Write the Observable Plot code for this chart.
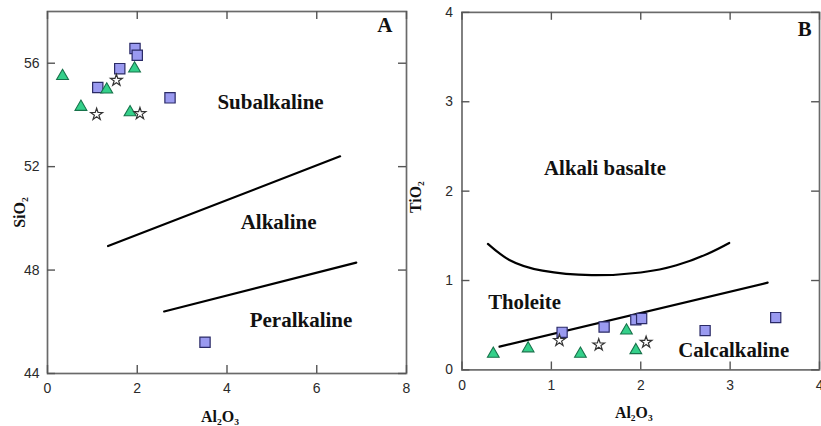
<!DOCTYPE html>
<html><head><meta charset="utf-8">
<script src="https://cdn.jsdelivr.net/npm/d3@7"></script>
<script src="https://cdn.jsdelivr.net/npm/@observablehq/plot@0.6"></script>
<style>
html,body{margin:0;padding:0;background:#fff;overflow:hidden;}
#wrap{position:relative;width:821px;height:426px;overflow:hidden;background:#fff;}
#a{position:absolute;left:0;top:0;}
#b{position:absolute;left:410px;top:0;}
</style></head><body><div id="wrap"><div id="a"></div><div id="b"></div></div>
<script>
// ---------- Panel A : SiO2 vs Al2O3 ----------
const squareAlA = [1.95, 2.00, 1.61, 1.12, 2.73, 3.51];
const squareSiO2 = [56.57, 56.31, 55.79, 55.06, 54.66, 45.21];
const triangleAlA = [0.335, 1.94, 1.32, 0.745, 1.84];
const triangleSiO2 = [55.5, 55.79, 54.98, 54.31, 54.1];
const starAlA = [1.535, 1.095, 2.06];
const starSiO2 = [55.34, 54.02, 54.05];
const boundaryA1Al = [1.35, 6.52];
const boundaryA1Si = [48.93, 52.4];
const boundaryA2Al = [2.6, 6.88];
const boundaryA2Si = [46.4, 48.29];
const regionNamesA = ["Subalkaline", "Alkaline", "Peralkaline"];
const regionAlA = [4.97, 5.15, 5.65];
const regionSiA = [54.49, 49.85, 46.06];
const xTicksA = [0, 2, 4, 6, 8];
const yTicksA = [44, 48, 52, 56];

// ---------- Panel B : TiO2 vs Al2O3 ----------
const squareAlB = [1.12, 1.59, 1.945, 2.01, 2.72, 3.51];
const squareTiO2 = [0.42, 0.48, 0.56, 0.575, 0.44, 0.585];
const triangleAlB = [0.35, 0.74, 1.325, 1.84, 1.945];
const triangleTiO2 = [0.18, 0.24, 0.18, 0.44, 0.22];
const starAlB = [1.09, 1.53, 2.06];
const starTiO2 = [0.33, 0.28, 0.31];
const lineBAl = [0.42, 3.42];
const lineBTi = [0.26, 0.976];
const curveBAl = [0.29, 0.53, 0.9, 1.45, 2.0, 2.4, 2.75, 2.99];
const curveBTi = [1.41, 1.23, 1.11, 1.06, 1.09, 1.17, 1.30, 1.42];
const regionNamesB = ["Alkali basalte", "Tholeite", "Calcalkaline"];
const regionAlB = [1.60, 0.70, 3.04];
const regionTiB = [2.26, 0.76, 0.22];
const xTicksB = [0, 1, 2, 3, 4];
const yTicksB = [0, 1, 2, 3, 4];

const SERIF = "'Liberation Serif','Times New Roman',serif";
const SANS = "'Liberation Sans',Arial,sans-serif";
const zip = (xs, ys) => xs.map((x, i) => ({x, y: ys[i]}));

function panel(cfg) {
  const innerW = cfg.width - cfg.marginLeft - cfg.marginRight;
  const innerH = cfg.height - cfg.marginTop - cfg.marginBottom;
  const T = 8;
  const regions = cfg.regionNames.map((t, i) => ({t, x: cfg.regionX[i], y: cfg.regionY[i]}));
  return Plot.plot({
    width: cfg.width, height: cfg.height,
    marginLeft: cfg.marginLeft, marginRight: cfg.marginRight,
    marginTop: cfg.marginTop, marginBottom: cfg.marginBottom,
    style: {fontFamily: SANS, background: "transparent", overflow: "visible"},
    x: {domain: cfg.xDomain},
    y: {domain: cfg.yDomain},
    marks: [
      Plot.frame({stroke: "#6a6a6a", strokeWidth: 1.7}),
      Plot.tickX(cfg.xTicks, {x: d => d, insetTop: innerH - T, stroke: "#555", strokeWidth: 1.4}),
      Plot.tickX(cfg.xTicks, {x: d => d, insetBottom: innerH - T, stroke: "#555", strokeWidth: 1.4}),
      Plot.tickY(cfg.yTicks, {y: d => d, insetRight: innerW - T, stroke: "#555", strokeWidth: 1.4}),
      Plot.tickY(cfg.yTicks, {y: d => d, insetLeft: innerW - T, stroke: "#555", strokeWidth: 1.4}),
      Plot.axisX({ticks: cfg.xTicks, tickFormat: d => String(d), tickSize: 0, tickPadding: 10, fontSize: 14, color: "#2a2a2a", label: null}),
      Plot.axisY({ticks: cfg.yTicks, tickFormat: d => String(d), tickSize: 0, tickPadding: cfg.yPad, fontSize: 14, color: "#2a2a2a", label: null}),
      Plot.text([cfg.xTitle], {text: d => d, frameAnchor: "bottom", dy: 43, dx: -7, lineAnchor: "middle",
        fontSize: 16, fontWeight: "bold", fontFamily: SERIF, fill: "#111"}),
      Plot.text([cfg.yTitle], {text: d => d, frameAnchor: "left", rotate: -90, dx: cfg.yTitleDx, dy: cfg.yTitleDy,
        lineAnchor: "middle", textAnchor: "middle", fontSize: 16, fontWeight: "bold", fontFamily: SERIF, fill: "#111"}),
      Plot.text([cfg.letter], {text: d => d, frameAnchor: "top-right", dx: cfg.letterDx, dy: cfg.letterDy,
        fontSize: 21, fontWeight: "bold", fontFamily: SERIF, fill: "#111"}),
      Plot.text(regions, {x: "x", y: "y", text: "t", textAnchor: "middle", lineAnchor: "middle",
        fontSize: 21, fontWeight: "bold", fontFamily: SERIF, fill: "#111"}),
      ...cfg.lines.map(l => Plot.line(l, {x: "x", y: "y", stroke: "#000", strokeWidth: 2.2, curve: "natural"})),
      Plot.dot(cfg.squares, {x: "x", y: "y", symbol: "square", r: 5.8, fill: "#9a9af0", stroke: "#2a2a66", strokeWidth: 1.2}),
      Plot.dot(cfg.triangles, {x: "x", y: "y", symbol: "triangle", r: 4.4, fill: "#34d08a", stroke: "#17724a", strokeWidth: 1.1}),
      Plot.dot(cfg.stars, {x: "x", y: "y", symbol: "star", r: 3.7, fill: "#fff", stroke: "#333", strokeWidth: 1.2})
    ]
  });
}

document.getElementById("a").append(panel({
  width: 410, height: 426, marginLeft: 47, marginRight: 4, marginTop: 11, marginBottom: 53,
  xDomain: [0, 8], yDomain: [44, 58], xTicks: xTicksA, yTicks: yTicksA, yPad: 8,
  xTitle: "Al₂O₃", yTitle: "SiO₂", yTitleDx: -28, yTitleDy: 20,
  letter: "A", letterDx: -14, letterDy: 6,
  regionNames: regionNamesA, regionX: regionAlA, regionY: regionSiA,
  lines: [zip(boundaryA1Al, boundaryA1Si), zip(boundaryA2Al, boundaryA2Si)],
  squares: zip(squareAlA, squareSiO2), triangles: zip(triangleAlA, triangleSiO2), stars: zip(starAlA, starSiO2)
}));

document.getElementById("b").append(panel({
  width: 415, height: 426, marginLeft: 52, marginRight: 2, marginTop: 12, marginBottom: 53,
  xDomain: [0, 4], yDomain: [0, 4], xTicks: xTicksB, yTicks: yTicksB, yPad: 9,
  xTitle: "Al₂O₃", yTitle: "TiO₂", yTitleDx: -47, yTitleDy: 6,
  letter: "B", letterDx: -8, letterDy: 9,
  regionNames: regionNamesB, regionX: regionAlB, regionY: regionTiB,
  lines: [zip(lineBAl, lineBTi), zip(curveBAl, curveBTi)],
  squares: zip(squareAlB, squareTiO2), triangles: zip(triangleAlB, triangleTiO2), stars: zip(starAlB, starTiO2)
}));
</script></body></html>
